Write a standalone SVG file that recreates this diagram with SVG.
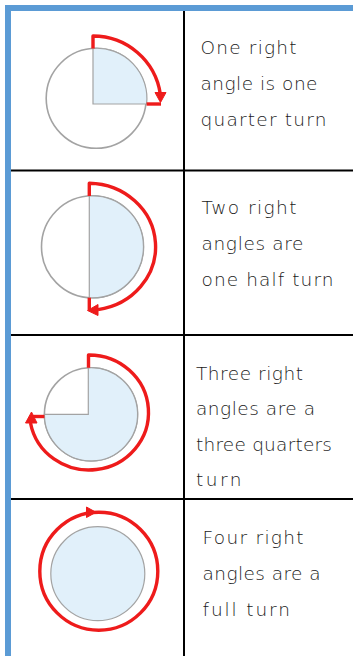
<svg xmlns="http://www.w3.org/2000/svg" width="353" height="656" viewBox="0 0 353 656">
<style>
.grid{stroke:#000;stroke-width:2;fill:none}
.border{fill:#5B9BD5}
.disc{fill:#fff;stroke:#A3A3A3;stroke-width:1.6}
.fill{fill:#E1F0FA;stroke:#A3A3A3;stroke-width:1.2}
.turn{fill:none;stroke:#EE1B1B;stroke-width:3.4;stroke-linecap:butt;stroke-linejoin:round}
.head{fill:#EE1B1B;stroke:#EE1B1B;stroke-width:1;stroke-linejoin:round}
.lbl{font-family:"DejaVu Sans","Liberation Sans",sans-serif;font-size:18.5px;fill:#1a1a1a;font-weight:300}
</style>
<rect width="353" height="656" fill="#fff"/>
<g id="table">
<rect class="border" x="5" y="5" width="348" height="6"/>
<rect class="border" x="5" y="5" width="6" height="651"/>
<line class="grid" x1="184" y1="11" x2="184" y2="656"/>
<line class="grid" x1="11" y1="170.5" x2="353" y2="170.5"/>
<line class="grid" x1="11" y1="335" x2="353" y2="335"/>
<line class="grid" x1="11" y1="499" x2="353" y2="499"/>
</g>
<g id="row1">
<circle class="disc" cx="96.2" cy="98.3" r="50"/>
<path class="fill" d="M93,104 V48.4 A50,50 0 0 1 146.6,104 Z"/>
<path class="turn" d="M93,48.4 V36 A68,68 0 0 1 160.3,94"/>
<path class="turn" d="M146.6,104 H161"/>
<polygon class="head" points="155,92.5 166,92.5 160.5,102.5"/>
<text class="lbl" x="200.5" y="54" textLength="96" lengthAdjust="spacing">One right</text>
<text class="lbl" x="200.5" y="90" textLength="117" lengthAdjust="spacing">angle is one</text>
<text class="lbl" x="200.5" y="125.5" textLength="126" lengthAdjust="spacing">quarter turn</text>
</g>
<g id="row2">
<circle class="disc" cx="92.5" cy="246.8" r="51"/>
<path class="fill" d="M89.3,195.9 A51,51 0 1 1 89.3,297.7 Z"/>
<path class="turn" d="M89.3,195.9 V183.3 A67.5,63.5 0 0 1 98,309.6"/>
<path class="turn" d="M89.3,297.7 V310"/>
<polygon class="head" points="87.5,310.5 98,304.5 98,315.5"/>
<text class="lbl" x="201.5" y="213.5" textLength="95" lengthAdjust="spacing">Two right</text>
<text class="lbl" x="201.5" y="250" textLength="102" lengthAdjust="spacing">angles are</text>
<text class="lbl" x="201.5" y="285.5" textLength="132" lengthAdjust="spacing">one half turn</text>
</g>
<g id="row3">
<circle class="disc" cx="91" cy="414.3" r="46.6"/>
<path class="fill" d="M88.3,414.3 V367.8 A46.6,46.6 0 1 1 44.4,414.3 Z"/>
<path class="turn" d="M88.5,367.8 V355 A59.5,57.5 0 1 1 30.5,423"/>
<path class="turn" d="M33,416.5 H44.4"/>
<polygon class="head" points="31.5,412 25.5,423 37,423"/>
<text class="lbl" x="196" y="379.5" textLength="107" lengthAdjust="spacing">Three right</text>
<text class="lbl" x="196" y="415" textLength="119" lengthAdjust="spacing">angles are a</text>
<text class="lbl" x="196" y="450.5" textLength="136" lengthAdjust="spacing">three quarters</text>
<text class="lbl" x="196" y="485.5" textLength="45.5" lengthAdjust="spacing">turn</text>
</g>
<g id="row4">
<circle class="fill" cx="97.8" cy="573.7" r="47"/>
<circle class="turn" cx="98.8" cy="571.2" r="59"/>
<polygon class="head" points="96,512.3 86.5,507 86.5,517.5"/>
<text class="lbl" x="202.5" y="543.5" textLength="101" lengthAdjust="spacing">Four right</text>
<text class="lbl" x="202.5" y="580" textLength="118" lengthAdjust="spacing">angles are a</text>
<text class="lbl" x="202.5" y="615.5" textLength="87.5" lengthAdjust="spacing">full turn</text>
</g>
</svg>
